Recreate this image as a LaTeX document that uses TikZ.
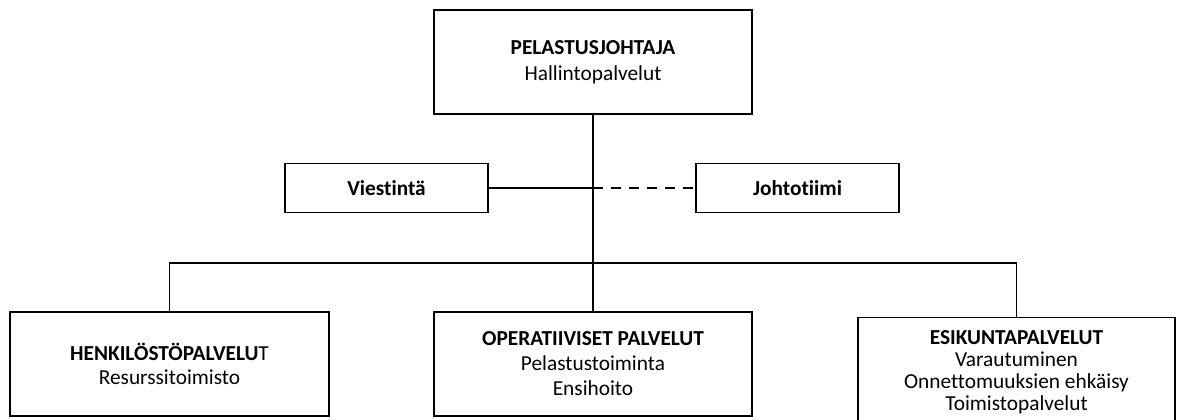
\documentclass[tikz,border=0pt]{standalone}
\usepackage{fontspec}
\setmainfont{Carlito}[Ligatures={NoCommon,NoRequired,NoContextual,NoRare}]
\begin{document}
\begin{tikzpicture}[x=0.75pt,y=-0.75pt,
  orgbox/.style={draw=black, line width=0.9pt, rectangle, align=center,
    inner sep=0pt, font=\fontsize{16}{19.8}\selectfont},
  unitbox/.style={orgbox, minimum width=318*0.75pt, minimum height=104*0.75pt},
  sidebox/.style={orgbox, minimum width=203*0.75pt, minimum height=49*0.75pt},
  link/.style={line width=0.9pt},
  dashlink/.style={line width=0.9pt, dash pattern=on 7.5pt off 6pt}]
\useasboundingbox (0,0) rectangle (1181,419);
\clip (0,0) rectangle (1181,419);

% top level
\node[unitbox] (chief) at (593,62)
  {\textbf{PELASTUSJOHTAJA}\\Hallintopalvelut};

% staff functions beside the main line
\node[sidebox] (viest) at (386.5,188) {\textbf{Viestintä}};
\node[sidebox] (johto) at (797.5,188) {\textbf{Johtotiimi}};

% departments
\node[unitbox, minimum width=319*0.75pt,
  font=\fontsize{16}{18}\selectfont] (hr) at (169.5,364)
  {\textbf{HENKILÖSTÖPALVELU}T\\Resurssitoimisto};
\node[unitbox, font=\fontsize{16}{18.8}\selectfont] (ops) at (593,364)
  {\textbf{OPERATIIVISET PALVELUT}\\Pelastustoiminta\\Ensihoito};
\node[orgbox, anchor=north, minimum width=317*0.75pt, inner ysep=10pt,
  font=\fontsize{16}{16.3}\selectfont] (staff) at (1016.5,317)
  {\textbf{ESIKUNTAPALVELUT}\\Varautuminen\\Onnettomuuksien ehkäisy\\Toimistopalvelut};

% connectors
\coordinate (hub) at (chief.south |- viest.east);
\coordinate (bus) at (chief.south |- 0,263);
\draw[link] (chief.south) -- (ops.north);
\draw[link] (viest.east) -- (hub);
\draw[dashlink] (hub) -- (johto.west);
\draw[link] (hr.north) |- (bus) -| (staff.north);
\end{tikzpicture}
\end{document}
